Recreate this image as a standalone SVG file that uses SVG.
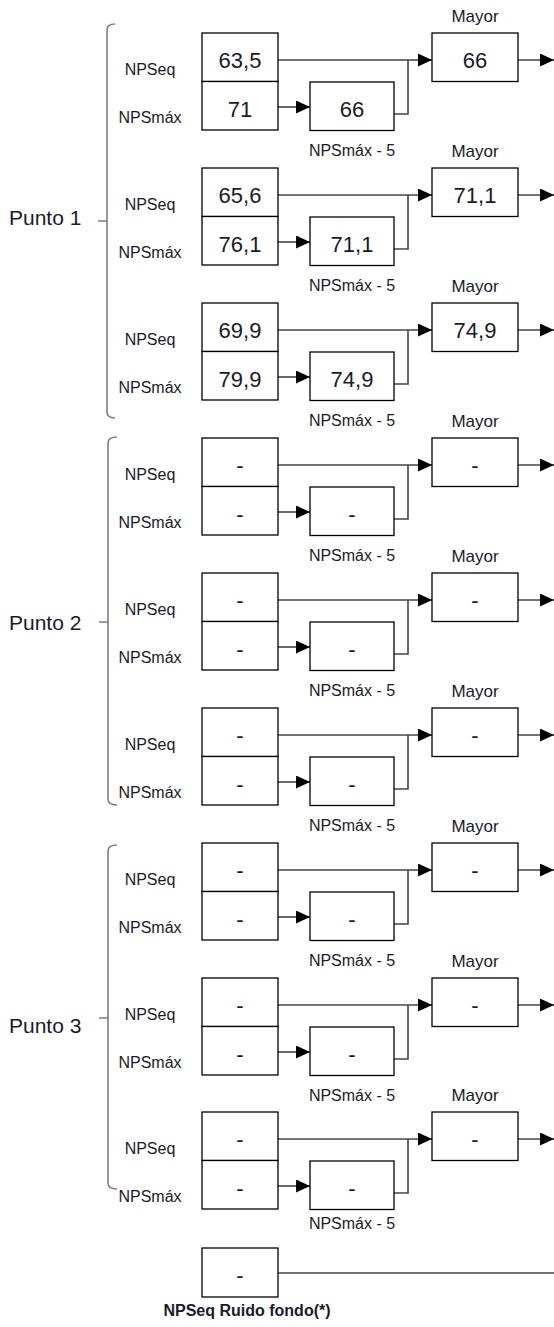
<svg xmlns="http://www.w3.org/2000/svg" width="554" height="1327" viewBox="0 0 554 1327">
<defs>
<marker id="ah" markerUnits="userSpaceOnUse" markerWidth="14" markerHeight="14" refX="14" refY="6.5" orient="auto"><path d="M0,0 L14,6.5 L0,13 Z" fill="#000"/></marker>
</defs>
<style>
rect{fill:#fff;stroke:#000;stroke-width:1.3}
text{font-family:"Liberation Sans",Arial,sans-serif;fill:#1a1a2a}
.v{font-size:22px;text-anchor:middle}
.l{font-size:16px;text-anchor:middle}
.m{font-size:17px;text-anchor:middle}
.p{font-size:21px}
.b{font-size:16px;font-weight:bold;text-anchor:middle}
.c{fill:none;stroke:#444;stroke-width:1.6}
.a{marker-end:url(#ah)}
.br{fill:none;stroke:#7f7f7f;stroke-width:1.6}
</style>
<rect x="0" y="0" width="554" height="1327" style="fill:#fff;stroke:none"/>
<g id="brackets">
<path class="br" d="M115,24 Q107,24 107,30 V412 Q107,418 115,418 M98,221 H107"/>
<path class="br" d="M117,437 Q108,437 108,443 V799 Q108,805 117,805 M99,622 H108"/>
<path class="br" d="M117,845 Q108,845 108,851 V1183 Q108,1189 117,1189 M99,1018 H108"/>
<text class="p" x="9" y="225">Punto 1</text>
<text class="p" x="9" y="630">Punto 2</text>
<text class="p" x="9" y="1033">Punto 3</text>
</g>
<g id="connectors">
<path class="c a" d="M278,60 H432"/><path class="c a" d="M278,107 H310"/><path class="c" d="M394,114 H408 V60"/><path class="c a" d="M518,60 H554"/>
<path class="c a" d="M278,195 H432"/><path class="c a" d="M278,242 H310"/><path class="c" d="M394,249 H408 V195"/><path class="c a" d="M518,195 H554"/>
<path class="c a" d="M278,330 H432"/><path class="c a" d="M278,377 H310"/><path class="c" d="M394,384 H408 V330"/><path class="c a" d="M518,330 H554"/>
<path class="c a" d="M278,465 H432"/><path class="c a" d="M278,512 H310"/><path class="c" d="M394,519 H408 V465"/><path class="c a" d="M518,465 H554"/>
<path class="c a" d="M278,600 H432"/><path class="c a" d="M278,647 H310"/><path class="c" d="M394,654 H408 V600"/><path class="c a" d="M518,600 H554"/>
<path class="c a" d="M278,735 H432"/><path class="c a" d="M278,782 H310"/><path class="c" d="M394,789 H408 V735"/><path class="c a" d="M518,735 H554"/>
<path class="c a" d="M278,870 H432"/><path class="c a" d="M278,917 H310"/><path class="c" d="M394,924 H408 V870"/><path class="c a" d="M518,870 H554"/>
<path class="c a" d="M278,1005 H432"/><path class="c a" d="M278,1052 H310"/><path class="c" d="M394,1059 H408 V1005"/><path class="c a" d="M518,1005 H554"/>
<path class="c a" d="M278,1139 H432"/><path class="c a" d="M278,1186 H310"/><path class="c" d="M394,1193 H408 V1139"/><path class="c a" d="M518,1139 H554"/>
<path class="c" d="M278,1273 H554"/>
</g>
<g id="b1">
<g id="b1-eq"><rect x="202" y="33" width="76" height="48.5"/><text class="v" x="240" y="68">63,5</text><text class="l" x="150" y="74.5">NPSeq</text></g>
<g id="b1-max"><rect x="202" y="81.5" width="76" height="48.5"/><text class="v" x="240" y="116.5">71</text><text class="l" x="150" y="123">NPSmáx</text></g>
<g id="b1-m5"><rect x="310" y="82" width="84" height="48.5"/><text class="v" x="352" y="117">66</text><text class="l" x="352" y="156">NPSmáx - 5</text></g>
<g id="b1-may"><rect x="432" y="33" width="86" height="48.5"/><text class="v" x="475" y="68">66</text><text class="m" x="475" y="21.5">Mayor</text></g>
</g>
<g id="b2">
<g id="b2-eq"><rect x="202" y="168" width="76" height="48.5"/><text class="v" x="240" y="203">65,6</text><text class="l" x="150" y="209.5">NPSeq</text></g>
<g id="b2-max"><rect x="202" y="216.5" width="76" height="48.5"/><text class="v" x="240" y="251.5">76,1</text><text class="l" x="150" y="258">NPSmáx</text></g>
<g id="b2-m5"><rect x="310" y="217" width="84" height="48.5"/><text class="v" x="352" y="252">71,1</text><text class="l" x="352" y="291">NPSmáx - 5</text></g>
<g id="b2-may"><rect x="432" y="168" width="86" height="48.5"/><text class="v" x="475" y="203">71,1</text><text class="m" x="475" y="156.5">Mayor</text></g>
</g>
<g id="b3">
<g id="b3-eq"><rect x="202" y="303" width="76" height="48.5"/><text class="v" x="240" y="338">69,9</text><text class="l" x="150" y="344.5">NPSeq</text></g>
<g id="b3-max"><rect x="202" y="351.5" width="76" height="48.5"/><text class="v" x="240" y="386.5">79,9</text><text class="l" x="150" y="393">NPSmáx</text></g>
<g id="b3-m5"><rect x="310" y="352" width="84" height="48.5"/><text class="v" x="352" y="387">74,9</text><text class="l" x="352" y="426">NPSmáx - 5</text></g>
<g id="b3-may"><rect x="432" y="303" width="86" height="48.5"/><text class="v" x="475" y="338">74,9</text><text class="m" x="475" y="291.5">Mayor</text></g>
</g>
<g id="b4">
<g id="b4-eq"><rect x="202" y="438" width="76" height="48.5"/><text class="v" x="240" y="473">-</text><text class="l" x="150" y="479.5">NPSeq</text></g>
<g id="b4-max"><rect x="202" y="486.5" width="76" height="48.5"/><text class="v" x="240" y="521.5">-</text><text class="l" x="150" y="528">NPSmáx</text></g>
<g id="b4-m5"><rect x="310" y="487" width="84" height="48.5"/><text class="v" x="352" y="522">-</text><text class="l" x="352" y="561">NPSmáx - 5</text></g>
<g id="b4-may"><rect x="432" y="438" width="86" height="48.5"/><text class="v" x="475" y="473">-</text><text class="m" x="475" y="426.5">Mayor</text></g>
</g>
<g id="b5">
<g id="b5-eq"><rect x="202" y="573" width="76" height="48.5"/><text class="v" x="240" y="608">-</text><text class="l" x="150" y="614.5">NPSeq</text></g>
<g id="b5-max"><rect x="202" y="621.5" width="76" height="48.5"/><text class="v" x="240" y="656.5">-</text><text class="l" x="150" y="663">NPSmáx</text></g>
<g id="b5-m5"><rect x="310" y="622" width="84" height="48.5"/><text class="v" x="352" y="657">-</text><text class="l" x="352" y="696">NPSmáx - 5</text></g>
<g id="b5-may"><rect x="432" y="573" width="86" height="48.5"/><text class="v" x="475" y="608">-</text><text class="m" x="475" y="561.5">Mayor</text></g>
</g>
<g id="b6">
<g id="b6-eq"><rect x="202" y="708" width="76" height="48.5"/><text class="v" x="240" y="743">-</text><text class="l" x="150" y="749.5">NPSeq</text></g>
<g id="b6-max"><rect x="202" y="756.5" width="76" height="48.5"/><text class="v" x="240" y="791.5">-</text><text class="l" x="150" y="798">NPSmáx</text></g>
<g id="b6-m5"><rect x="310" y="757" width="84" height="48.5"/><text class="v" x="352" y="792">-</text><text class="l" x="352" y="831">NPSmáx - 5</text></g>
<g id="b6-may"><rect x="432" y="708" width="86" height="48.5"/><text class="v" x="475" y="743">-</text><text class="m" x="475" y="696.5">Mayor</text></g>
</g>
<g id="b7">
<g id="b7-eq"><rect x="202" y="843" width="76" height="48.5"/><text class="v" x="240" y="878">-</text><text class="l" x="150" y="884.5">NPSeq</text></g>
<g id="b7-max"><rect x="202" y="891.5" width="76" height="48.5"/><text class="v" x="240" y="926.5">-</text><text class="l" x="150" y="933">NPSmáx</text></g>
<g id="b7-m5"><rect x="310" y="892" width="84" height="48.5"/><text class="v" x="352" y="927">-</text><text class="l" x="352" y="966">NPSmáx - 5</text></g>
<g id="b7-may"><rect x="432" y="843" width="86" height="48.5"/><text class="v" x="475" y="878">-</text><text class="m" x="475" y="831.5">Mayor</text></g>
</g>
<g id="b8">
<g id="b8-eq"><rect x="202" y="978" width="76" height="48.5"/><text class="v" x="240" y="1013">-</text><text class="l" x="150" y="1019.5">NPSeq</text></g>
<g id="b8-max"><rect x="202" y="1026.5" width="76" height="48.5"/><text class="v" x="240" y="1061.5">-</text><text class="l" x="150" y="1068">NPSmáx</text></g>
<g id="b8-m5"><rect x="310" y="1027" width="84" height="48.5"/><text class="v" x="352" y="1062">-</text><text class="l" x="352" y="1101">NPSmáx - 5</text></g>
<g id="b8-may"><rect x="432" y="978" width="86" height="48.5"/><text class="v" x="475" y="1013">-</text><text class="m" x="475" y="966.5">Mayor</text></g>
</g>
<g id="b9">
<g id="b9-eq"><rect x="202" y="1112" width="76" height="48.5"/><text class="v" x="240" y="1147">-</text><text class="l" x="150" y="1153.5">NPSeq</text></g>
<g id="b9-max"><rect x="202" y="1160.5" width="76" height="48.5"/><text class="v" x="240" y="1195.5">-</text><text class="l" x="150" y="1202">NPSmáx</text></g>
<g id="b9-m5"><rect x="310" y="1161" width="84" height="48.5"/><text class="v" x="352" y="1196">-</text><text class="l" x="352" y="1229">NPSmáx - 5</text></g>
<g id="b9-may"><rect x="432" y="1112" width="86" height="48.5"/><text class="v" x="475" y="1147">-</text><text class="m" x="475" y="1100.5">Mayor</text></g>
</g>
<g id="ruido">
<rect x="202" y="1248" width="76" height="49"/><text class="v" x="240" y="1283">-</text>
<text class="b" x="247" y="1316">NPSeq Ruido fondo(*)</text>
</g>
</svg>
